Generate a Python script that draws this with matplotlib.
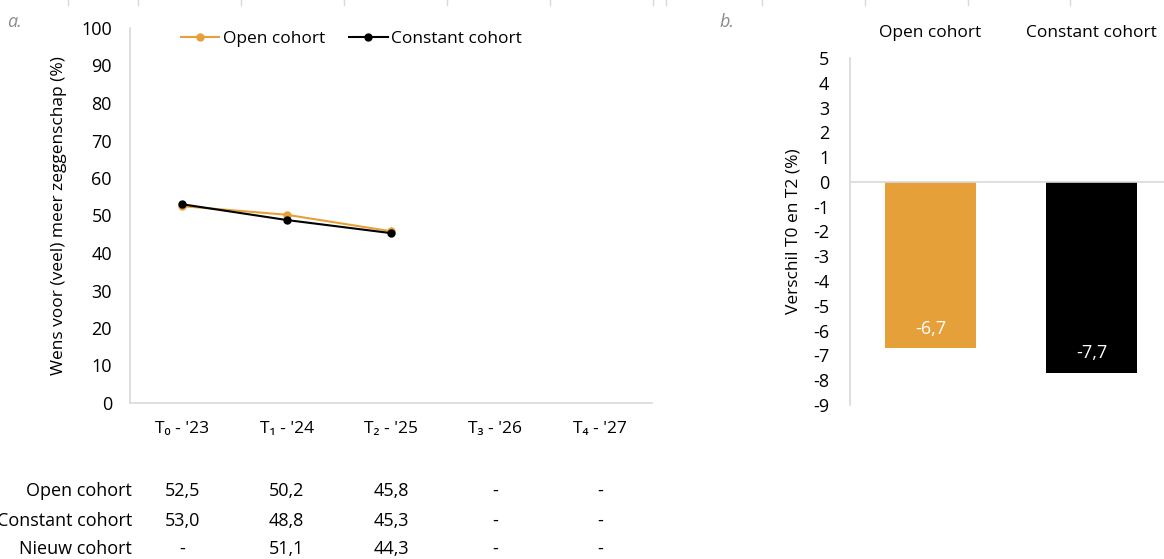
import numpy as np
import matplotlib
matplotlib.use('Agg')
from matplotlib import pyplot as plt
from matplotlib.transforms import blended_transform_factory

plt.rcParams['font.family'] = ['Open Sans', 'DejaVu Sans']
plt.rcParams['font.size'] = 12.5
plt.rcParams['axes.unicode_minus'] = False

# data
waves = ["T\u2080 - '23", "T\u2081 - '24", "T\u2082 - '25", "T\u2083 - '26", "T\u2084 - '27"]
open_cohort = [52.5, 50.2, 45.8]
constant_cohort = [53.0, 48.8, 45.3]
nieuw_cohort = [None, 51.1, 44.3]
table_rows = ['Open cohort', 'Constant cohort', 'Nieuw cohort']
diff_labels = ['Open cohort', 'Constant cohort']
diff_values = [-6.7, -7.7]

ORANGE = '#E6A03A'
BLACK = '#000000'
GRID = '#D9D9D9'


def fmt(v):
    return '-' if v is None else f'{v:.1f}'.replace('.', ',')


fig = plt.figure(figsize=(11.64, 5.59), dpi=100)

# panel a: line chart
ax = fig.add_axes([130 / 1164, 1 - 403 / 559, 522 / 1164, 375 / 559])
x = np.arange(len(waves))
ax.plot(x[:len(open_cohort)], open_cohort, color=ORANGE, lw=1.5, marker='o', ms=5, label='Open cohort')
ax.plot(x[:len(constant_cohort)], constant_cohort, color=BLACK, lw=1.5, marker='o', ms=5, label='Constant cohort')
ax.set_xlim(-0.5, len(waves) - 0.5)
ax.set_ylim(0, 100)
ax.set_yticks(range(0, 101, 10))
ax.set_xticks(x)
ax.set_xticklabels(waves)
ax.tick_params(axis='y', length=0, pad=13, labelsize=13)
ax.tick_params(axis='x', length=0, pad=13, labelsize=12.5)
for s in ['top', 'right']:
    ax.spines[s].set_visible(False)
for s in ['left', 'bottom']:
    ax.spines[s].set_color(GRID)
    ax.spines[s].set_linewidth(1.2)
ax.set_ylabel('Wens voor (veel) meer zeggenschap (%)', fontsize=12.5, labelpad=10)
ax.legend(loc='upper left', bbox_to_anchor=(0.068, 1.035), ncol=2, frameon=False,
          handlelength=2.2, handletextpad=0.2, columnspacing=1.4, fontsize=12.5)

# data table under panel a
trans = blended_transform_factory(ax.transData, fig.transFigure)
row_y = [1 - 491 / 559, 1 - 521 / 559, 1 - 549 / 559]
for ry, name, vals in zip(row_y, table_rows, [open_cohort, constant_cohort, nieuw_cohort]):
    fig.text(132 / 1164, ry, name, ha='right', va='center', fontsize=13)
    for i in range(len(waves)):
        v = vals[i] if i < len(vals) else None
        fig.text(x[i], ry, fmt(v), ha='center', va='center', fontsize=13, transform=trans)

# panel b: difference between T0 and T2
bx = fig.add_axes([850 / 1164, 1 - 405 / 559, 322 / 1164, 347 / 559])
bpos = np.arange(len(diff_values))
bars = bx.bar(bpos, diff_values, width=0.57, color=[ORANGE, BLACK])
bx.axhline(0, color=GRID, lw=1.2)
bx.set_xlim(-0.5, len(diff_values) - 0.5)
bx.set_ylim(-9, 5)
bx.set_yticks(range(-9, 6))
bx.set_xticks([])
bx.tick_params(axis='y', length=0, pad=15, labelsize=13)
for s in ['top', 'right', 'bottom']:
    bx.spines[s].set_visible(False)
bx.spines['left'].set_color(GRID)
bx.spines['left'].set_linewidth(1.2)
bx.set_ylabel('Verschil T0 en T2 (%)', fontsize=12.5, labelpad=8)
for b, v in zip(bars, diff_values):
    bx.annotate(fmt(v), (b.get_x() + b.get_width() / 2, v), xytext=(0, 14),
                textcoords='offset points', ha='center', va='center',
                color='white', fontsize=13)
btrans = blended_transform_factory(bx.transData, fig.transFigure)
for p, name in zip(bpos, diff_labels):
    fig.text(p, 1 - 33 / 559, name, ha='center', va='center', fontsize=12.5, transform=btrans)

# panel letters
fig.text(7 / 1164, 1 - 22 / 559, 'a.', style='italic', color='#8C8C8C', fontsize=13, va='center')
fig.text(719 / 1164, 1 - 22 / 559, 'b.', style='italic', color='#8C8C8C', fontsize=13, va='center')

# faint cell borders along the top edge
for px in [68, 138, 241, 344, 447, 550, 653, 666, 762, 865, 968, 1070]:
    fig.add_artist(plt.Line2D([px / 1164, px / 1164], [1, 1 - 5 / 559], color=GRID, lw=1))

fig.savefig('out.png', dpi=100)
